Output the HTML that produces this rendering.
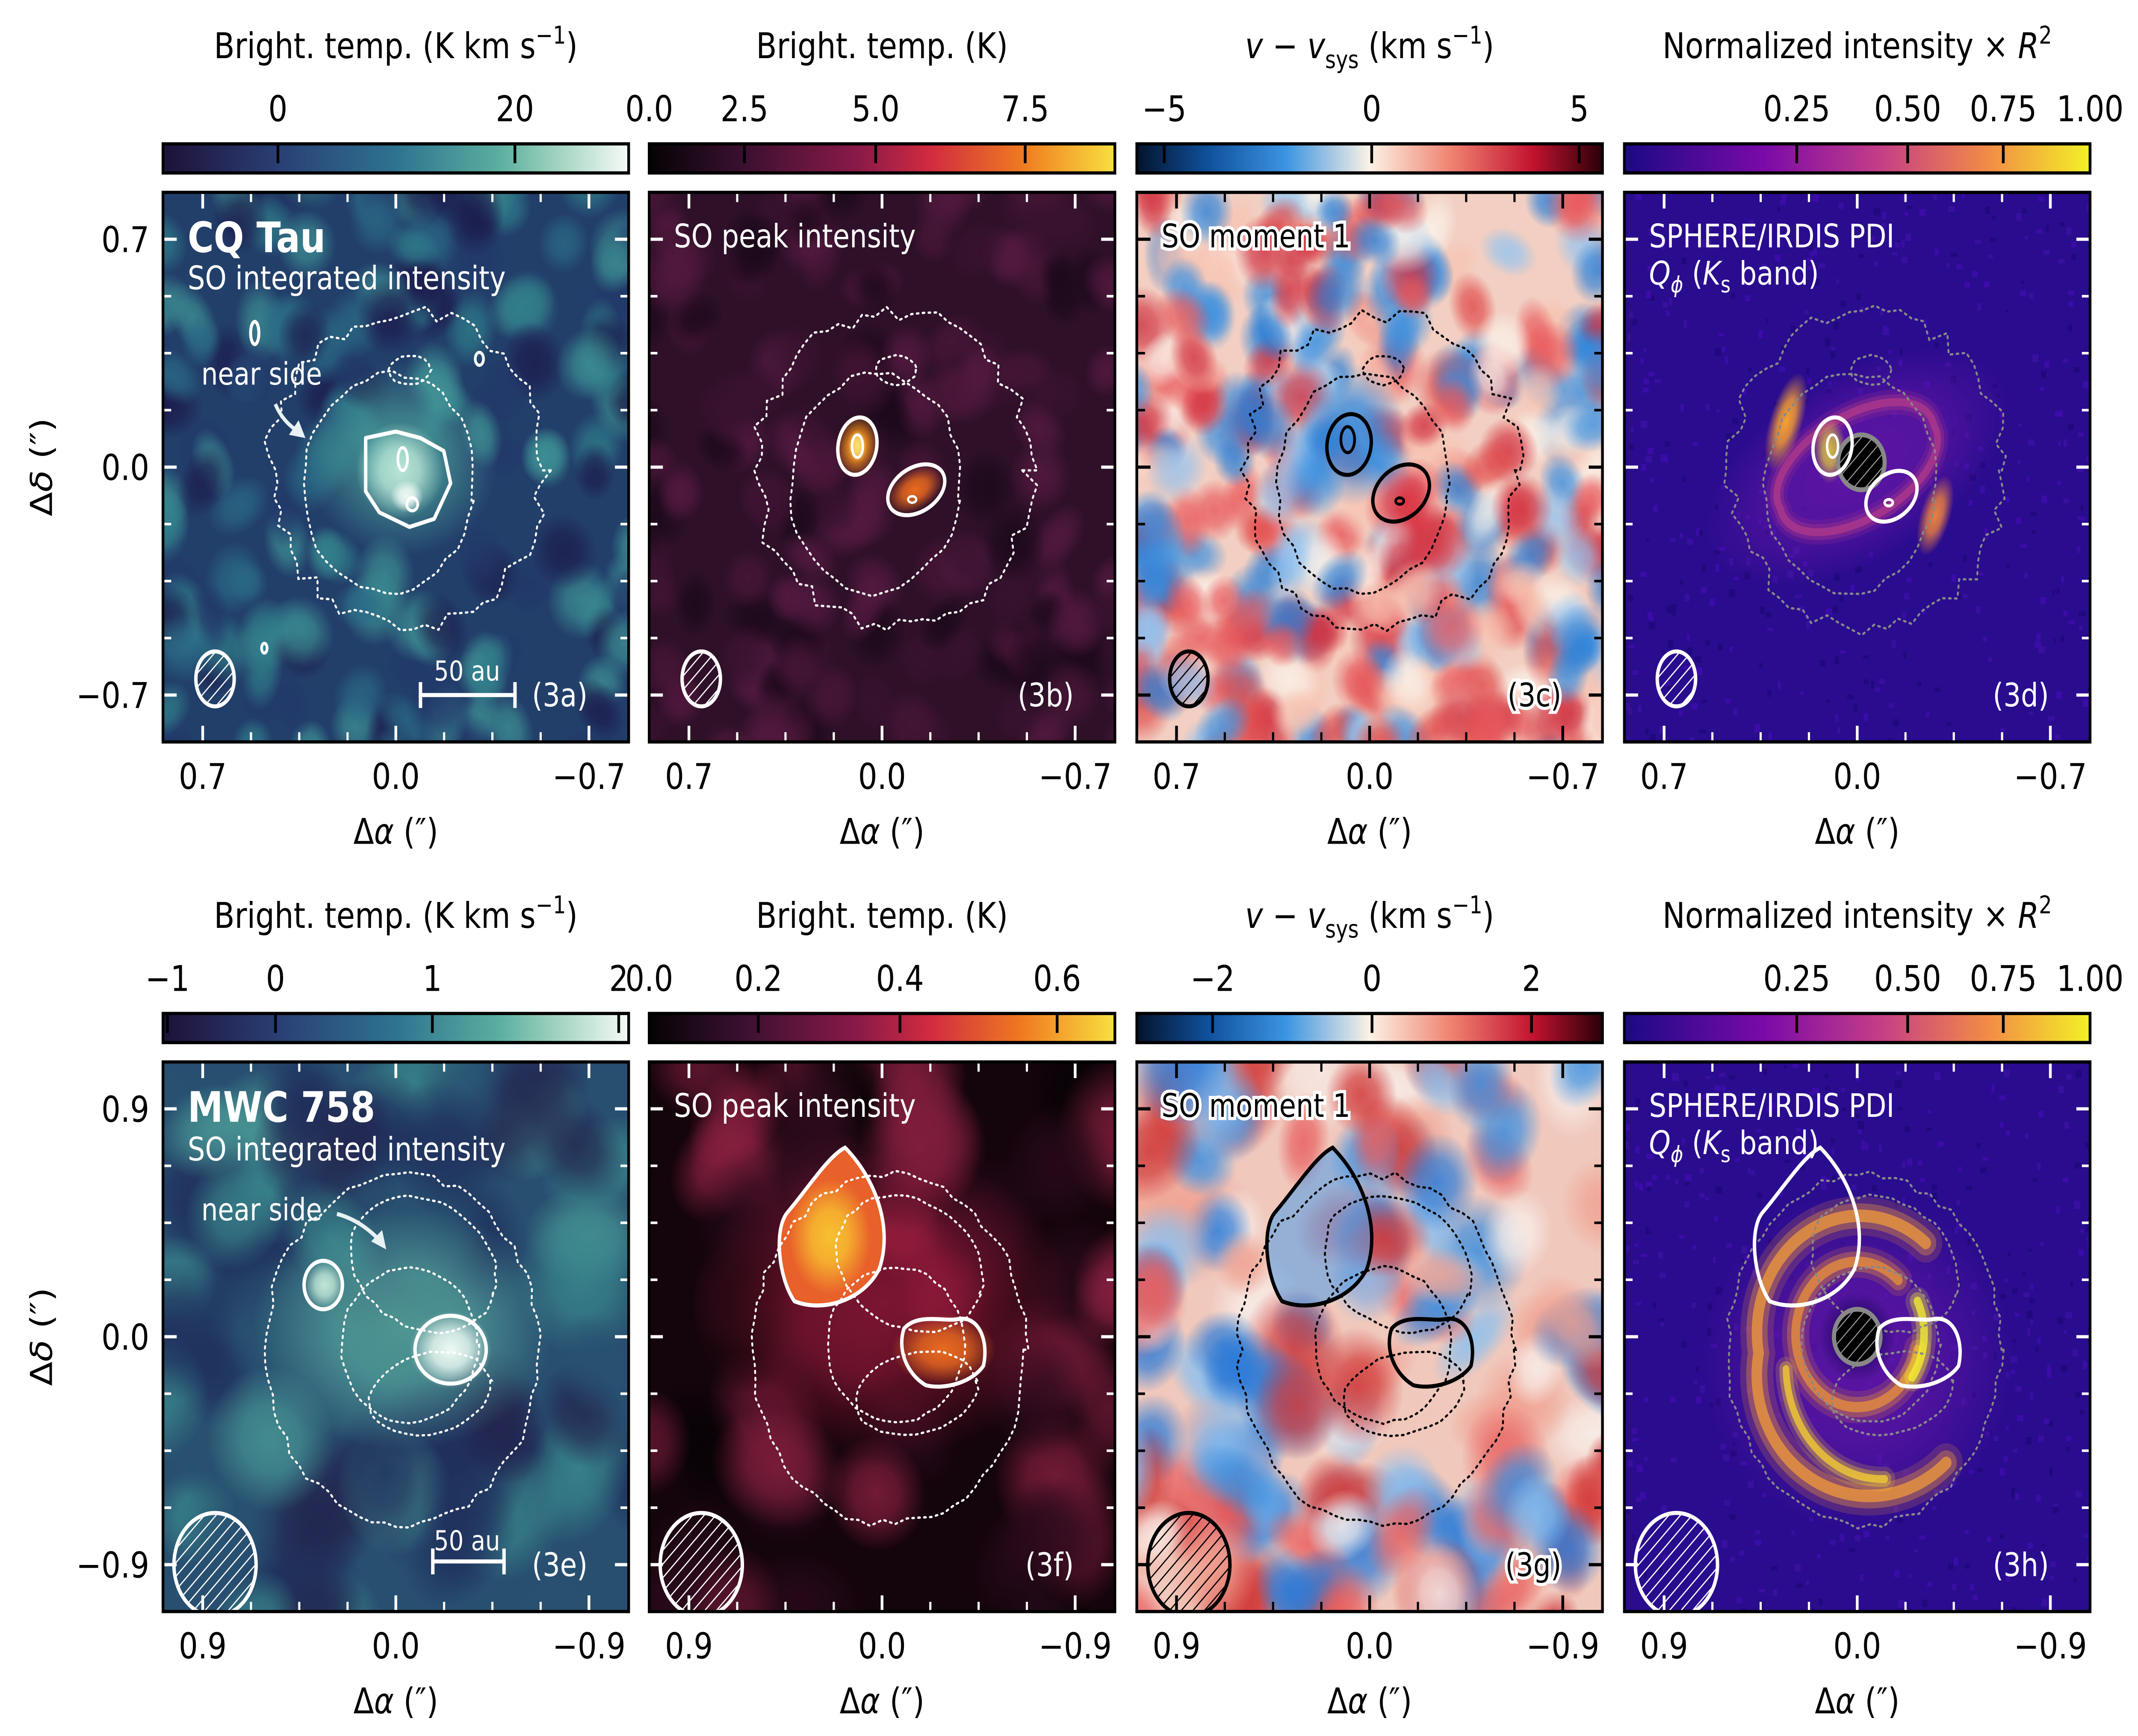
<!DOCTYPE html>
<html><head><meta charset="utf-8"><style>
html,body{margin:0;padding:0;background:#fff;width:100%;height:100%;overflow:hidden;}
svg{display:block;position:fixed;left:0;top:0;width:100vw;height:100vh;font-family:"DejaVu Sans","Liberation Sans",sans-serif;}
</style></head><body>
<svg id="fig" xmlns="http://www.w3.org/2000/svg" width="100%" height="100%" preserveAspectRatio="none" viewBox="0 0 1561 1074">
<defs id="defs">
<linearGradient id="cm0"><stop offset="0" stop-color="#1d1238"/><stop offset="0.25" stop-color="#2a3f75"/><stop offset="0.5" stop-color="#2e7390"/><stop offset="0.72" stop-color="#5aae9f"/><stop offset="0.85" stop-color="#a2d4c0"/><stop offset="1" stop-color="#f6faf7"/></linearGradient>
<linearGradient id="cm1"><stop offset="0" stop-color="#050305"/><stop offset="0.2" stop-color="#3a1030"/><stop offset="0.45" stop-color="#8a1a48"/><stop offset="0.6" stop-color="#d02a40"/><stop offset="0.8" stop-color="#ef7a20"/><stop offset="1" stop-color="#f8e040"/></linearGradient>
<linearGradient id="cm2"><stop offset="0" stop-color="#04142c"/><stop offset="0.15" stop-color="#0f4f9a"/><stop offset="0.32" stop-color="#3b94e2"/><stop offset="0.5" stop-color="#fbf2e4"/><stop offset="0.68" stop-color="#ef7f6e"/><stop offset="0.85" stop-color="#c2132f"/><stop offset="1" stop-color="#2a0008"/></linearGradient>
<linearGradient id="cm3"><stop offset="0" stop-color="#1b0a84"/><stop offset="0.3" stop-color="#7a0aa8"/><stop offset="0.55" stop-color="#c43e86"/><stop offset="0.78" stop-color="#f28b46"/><stop offset="1" stop-color="#f2f226"/></linearGradient>
<pattern id="hatchW" patternUnits="userSpaceOnUse" width="6" height="6" patternTransform="rotate(45)"><line x1="0" y1="0" x2="0" y2="6" stroke="#fff" stroke-width="1.6"/></pattern>
<pattern id="hatchK" patternUnits="userSpaceOnUse" width="6" height="6" patternTransform="rotate(45)"><line x1="0" y1="0" x2="0" y2="6" stroke="#000" stroke-width="1.6"/></pattern>
<pattern id="hatchG" patternUnits="userSpaceOnUse" width="6" height="6" patternTransform="rotate(45)"><rect width="6" height="6" fill="#000"/><line x1="0" y1="0" x2="0" y2="6" stroke="#999" stroke-width="1.4"/></pattern>
</defs>
</svg>
<script>
// ---------- data ----------
const row1TickVals = [[0,20],[0.0,2.5,5.0,7.5],[-5,0,5],[0.25,0.5,0.75,1.0]];
const row1TickLabels = [["0","20"],["0.0","2.5","5.0","7.5"],["\u22125","0","5"],["0.25","0.50","0.75","1.00"]];
const row1Norms = [[-9.7,29.6,1],[0,8.9,1.25],[-5.66,5.56,1],[0,1,0.717]];
const row2TickVals = [[-1,0,1,2],[0.0,0.2,0.4,0.6],[-2,0,2],[0.25,0.5,0.75,1.0]];
const row2TickLabels = [["\u22121","0","1","2"],["0.0","0.2","0.4","0.6"],["\u22122","0","2"],["0.25","0.50","0.75","1.00"]];
const row2Norms = [[-1.1,2.05,1.35],[0,0.67,1.2],[-2.95,2.89,1],[0,1,0.717]];
const row1AxisTicks = [0.7,0.0,-0.7];
const row1AxisLabels = ["0.7","0.0","\u22120.7"];
const row2AxisTicks = [0.9,0.0,-0.9];
const row2AxisLabels = ["0.9","0.0","\u22120.9"];
const panelTags = [["(3a)","(3b)","(3c)","(3d)"],["(3e)","(3f)","(3g)","(3h)"]];

// ---------- layout ----------
const NS="http://www.w3.org/2000/svg";
const svg=document.getElementById('fig');
const defs=document.getElementById('defs');
const PX=[119,474,830,1186], PY=[119,657], S=340, CB=[89,627];
function el(tag,attrs,parent){const e=document.createElementNS(NS,tag);for(const k in attrs)e.setAttribute(k,attrs[k]);(parent||svg).appendChild(e);return e;}
let seed=12345;function rnd(){seed=(seed*1103515245+12345)%2147483648;return seed/2147483648;}
const grads={};
function soft(col){
  const id='rg'+col.replace('#','');
  if(!grads[id]){grads[id]=1;const g=el('radialGradient',{id:id},defs);
    el('stop',{offset:'0','stop-color':col,'stop-opacity':1},g);
    el('stop',{offset:'0.45','stop-color':col,'stop-opacity':0.8},g);
    el('stop',{offset:'1','stop-color':col,'stop-opacity':0},g);}
  return 'url(#'+id+')';
}
function blob(g,cx,cy,rx,ry,col,rot,op){return el('ellipse',{cx:cx,cy:cy,rx:rx,ry:ry,fill:soft(col),transform:`rotate(${rot||0} ${cx} ${cy})`,opacity:op==null?1:op},g);}
function softStroke(g,d,col,w){
  el('path',{d:d,fill:'none',stroke:col,'stroke-width':w*2.2,opacity:0.18,'stroke-linecap':'round'},g);
  el('path',{d:d,fill:'none',stroke:col,'stroke-width':w*1.4,opacity:0.35,'stroke-linecap':'round'},g);
  el('path',{d:d,fill:'none',stroke:col,'stroke-width':w*0.7,opacity:0.75,'stroke-linecap':'round'},g);
}
function cbFrac(v,n){const f=Math.max(0,(v-n[0])/(n[1]-n[0]));return Math.pow(f,n[2]);}

// colorbars
for(let r=0;r<2;r++){
  const vals=r?row2TickVals:row1TickVals, labs=r?row2TickLabels:row1TickLabels, norms=r?row2Norms:row1Norms;
  for(let c=0;c<4;c++){
    const x=PX[c], y=CB[r];
    const bar=el('rect',{x:x,y:y,width:S,height:18,fill:'url(#cm'+c+')',stroke:'#000','stroke-width':2});
    
    
    vals[c].forEach((v,i)=>{
      const tx=x+cbFrac(v,norms[c])*S;
      const t=el('line',{x1:tx,y1:y,x2:tx,y2:y+12,stroke:'#000','stroke-width':2});
      
      
      const lt=el('text',{x:tx,y:y-14,'font-size':22,'text-anchor':'middle',fill:'#000'});
      lt.textContent=labs[c][i];
      
      
    });
    const ty=y-53, cx=x+S/2;
    const tt=el('text',{x:cx,y:ty,'font-size':22,'text-anchor':'middle',fill:'#000'});
    
    
    if(c===0){tt.innerHTML='Bright. temp. (K km s<tspan dy="-9" font-size="15">\u22121</tspan><tspan dy="9">)</tspan>';}
    else if(c===1){tt.textContent='Bright. temp. (K)';}
    else if(c===2){tt.innerHTML='<tspan font-style="italic">v</tspan> \u2212 <tspan font-style="italic">v</tspan><tspan dy="6" font-size="15">sys</tspan><tspan dy="-6"> (km s</tspan><tspan dy="-9" font-size="15">\u22121</tspan><tspan dy="9">)</tspan>';}
    else {tt.innerHTML='Normalized intensity \u00d7 <tspan font-style="italic">R</tspan><tspan dy="-9" font-size="15">2</tspan>';}
  }
}

// panels helpers
let pid=0;
function clipFor(x,y){const id='clip'+(pid++);const cp=el('clipPath',{id:id},defs);el('rect',{x:x,y:y,width:S,height:S},cp);return id;}
function noise(g,x,y,n,cols,rmin,rmax,op){
  for(let i=0;i<n;i++){const rx=rmin+rnd()*(rmax-rmin), ry=rmin+rnd()*(rmax-rmin);
    blob(g,x-10+rnd()*(S+20),y-10+rnd()*(S+20),rx,ry,cols[Math.floor(rnd()*cols.length)],rnd()*180,op);}
}
function speckle(g,x,y,n,cols){for(let i=0;i<n;i++){el('rect',{x:x+rnd()*S,y:y+rnd()*S,width:2+rnd()*3,height:2+rnd()*3,fill:cols[Math.floor(rnd()*cols.length)]},g);}}
function wobbleEllipse(cx,cy,rx,ry,rot,amp,nn){
  let d='';const a=rot*Math.PI/180;
  for(let i=0;i<=nn;i++){const t=i/nn*2*Math.PI;const w=1+amp*(rnd()-0.5);
    const ex=rx*w*Math.cos(t), ey=ry*w*Math.sin(t);
    const px=cx+ex*Math.cos(a)-ey*Math.sin(a), py=cy+ex*Math.sin(a)+ey*Math.cos(a);
    d+=(i?'L':'M')+px.toFixed(1)+','+py.toFixed(1);}
  return d+'Z';
}
function dotted(g,d,col,w){return el('path',{d:d,fill:'none',stroke:col,'stroke-width':w||1.4,'stroke-dasharray':'1.3,3','stroke-linecap':'round'},g);}
function contourRow1(g,x,y,col){
  const cx=x+S/2, cy=y+S/2;
  dotted(g,wobbleEllipse(cx+8,cy+2,100,97,0,0.12,70),col);
  dotted(g,wobbleEllipse(cx-5,cy+10,62,68,10,0.06,40),col);
  dotted(g,wobbleEllipse(cx+10,cy-60,15,9,0,0.1,16),col);
}
function contourRow2(g,x,y,col){
  const cx=x+S/2, cy=y+S/2;
  dotted(g,wobbleEllipse(cx+5,cy+8,100,108,0,0.05,70),col);
  dotted(g,wobbleEllipse(cx+10,cy+5,50,48,0,0.04,40),col);
  dotted(g,wobbleEllipse(cx+20,cy-45,55,40,20,0.05,40),col);
  dotted(g,wobbleEllipse(cx+25,cy+35,45,25,-10,0.05,30),col);
}
function teardrop(ox,oy){return `M${ox+617},${oy+710} C${ox+640},${oy+730} ${ox+652},${oy+760} ${ox+642},${oy+785} C${ox+630},${oy+805} ${ox+600},${oy+812} ${ox+580},${oy+805} C${ox+568},${oy+790} ${ox+565},${oy+760} ${ox+575},${oy+750} C${ox+590},${oy+735} ${ox+605},${oy+715} ${ox+617},${oy+710}Z`;}
function bean(ox,oy){return `M${ox+660},${oy+822} C${ox+670},${oy+812} ${ox+690},${oy+818} ${ox+700},${oy+816} C${ox+715},${oy+814} ${ox+722},${oy+830} ${ox+718},${oy+845} C${ox+710},${oy+855} ${ox+690},${oy+860} ${ox+676},${oy+857} C${ox+662},${oy+850} ${ox+655},${oy+835} ${ox+660},${oy+822}Z`;}
function txt(g,x,y,s,size,col,anchor,extra){const t=el('text',Object.assign({x:x,y:y,'font-size':size,fill:col,'text-anchor':anchor||'start'},extra||{}),g);t.innerHTML=s;return t;}
const QPHI='<tspan font-style="italic">Q</tspan><tspan dy="5" font-size="14" font-style="italic">\u03d5</tspan><tspan dy="-5"> (</tspan><tspan font-style="italic">K</tspan><tspan dy="5" font-size="14">s</tspan><tspan dy="-5"> band)</tspan>';

for(let r=0;r<2;r++)for(let c=0;c<4;c++){
  const x=PX[c], y=PY[r], cx=x+S/2, cy=y+S/2;
  const g=el('g',{'clip-path':'url(#'+clipFor(x,y)+')'});
  
  
  if(r===0){
    if(c===0){
      el('rect',{x:x,y:y,width:S,height:S,fill:'#223f6a'},g);
      noise(g,x,y,170,['#2f7d8a','#1c1c4c','#3d9094','#22386a','#2a6a86'],14,26,0.8);
      blob(g,cx+5,cy-5,70,60,'#4aa09a',0,0.8);
      blob(g,cx+3,cy+2,32,30,'#b8e4d6',0,1);
      blob(g,cx+8,cy+18,12,10,'#eef8f4',0,1);
      contourRow1(g,x,y,'#fff');
      el('path',{d:`M${x+148},${y+152} L${x+170},${y+148} L${x+188},${y+152} L${x+205},${y+160} L${x+210},${y+180} L${x+198},${y+202} L${x+180},${y+207} L${x+158},${y+198} L${x+148},${y+185} Z`,fill:'none',stroke:'#fff','stroke-width':2.5,'stroke-linejoin':'round'},g);
      el('ellipse',{cx:x+175,cy:y+165,rx:3.5,ry:7,fill:'none',stroke:'#fff','stroke-width':2},g);
      el('ellipse',{cx:x+182,cy:y+193,rx:4,ry:4,fill:'none',stroke:'#fff','stroke-width':2},g);
      el('ellipse',{cx:x+67,cy:y+87,rx:3,ry:7,fill:'none',stroke:'#fff','stroke-width':2.2},g);
      el('ellipse',{cx:x+231,cy:y+103,rx:3,ry:4,fill:'none',stroke:'#fff','stroke-width':2},g);
      el('ellipse',{cx:x+74,cy:y+282,rx:2,ry:3,fill:'none',stroke:'#fff','stroke-width':2},g);
      txt(g,x+18,y+37,'CQ Tau',26,'#fff','start',{'font-weight':'bold'});
      txt(g,x+18,y+60,'SO integrated intensity',20,'#fff');
      txt(g,x+28,y+119,'near side',19,'#fff');
      el('path',{d:`M${x+82},${y+131} Q${x+88},${y+143} ${x+101},${y+149}`,fill:'none',stroke:'#e8f2f4','stroke-width':2.5},g);
      el('path',{d:`M${x+104},${y+152} L${x+92},${y+150} L${x+99},${y+141} Z`,fill:'#e8f2f4'},g);
      el('line',{x1:x+188,y1:y+311,x2:x+257,y2:y+311,stroke:'#fff','stroke-width':2.5},g);
      el('line',{x1:x+188,y1:y+303,x2:x+188,y2:y+319,stroke:'#fff','stroke-width':2.5},g);
      el('line',{x1:x+257,y1:y+303,x2:x+257,y2:y+319,stroke:'#fff','stroke-width':2.5},g);
      txt(g,x+222,y+302,'50 au',17,'#fff','middle');
    } else if(c===1){
      el('rect',{x:x,y:y,width:S,height:S,fill:'#2e1028'},g);
      noise(g,x,y,150,['#561a42','#1a0818','#4a1638','#3a1230'],14,26,0.8);
      blob(g,x+152,y+157,16,20,'#f5901c',15,1);
      blob(g,x+152,y+157,7,10,'#fbe070',0,1);
      blob(g,x+194,y+184,22,13,'#ea6a1e',-25,1);
      contourRow1(g,x,y,'#fff');
      el('ellipse',{cx:x+152,cy:y+157,rx:14,ry:18,fill:'none',stroke:'#fff','stroke-width':2.5,transform:`rotate(15 ${x+152} ${y+157})`},g);
      el('ellipse',{cx:x+152,cy:y+157,rx:4,ry:7,fill:'none',stroke:'#fff','stroke-width':1.8},g);
      el('ellipse',{cx:x+195,cy:y+184,rx:22,ry:14,fill:'none',stroke:'#fff','stroke-width':2.5,transform:`rotate(-25 ${x+195} ${y+184})`},g);
      el('ellipse',{cx:x+192,cy:y+190,rx:3,ry:2,fill:'none',stroke:'#fff','stroke-width':1.5},g);
      txt(g,x+18,y+34,'SO peak intensity',20,'#fff');
    } else if(c===2){
      el('rect',{x:x,y:y,width:S,height:S,fill:'#f2cfc2'},g);
      noise(g,x,y,300,['#e8575a','#3a8fe0','#f7c3b2','#94c4f0','#d03040','#fbf3ea','#e04848','#2a80d8'],14,26,0.8);
      blob(g,x+157,y+150,40,44,'#2a86de',0,0.9);
      blob(g,x+196,y+190,32,24,'#e03540',-30,0.9);
      contourRow1(g,x,y,'#000');
      el('ellipse',{cx:x+155,cy:y+156,rx:16,ry:19,fill:'none',stroke:'#000','stroke-width':2.5,transform:`rotate(15 ${x+155} ${y+156})`},g);
      el('ellipse',{cx:x+154,cy:y+153,rx:5,ry:8,fill:'none',stroke:'#000','stroke-width':2},g);
      el('ellipse',{cx:x+193,cy:y+186,rx:22,ry:16,fill:'none',stroke:'#000','stroke-width':2.5,transform:`rotate(-30 ${x+193} ${y+186})`},g);
      el('ellipse',{cx:x+192,cy:y+191,rx:3,ry:2,fill:'none',stroke:'#000','stroke-width':1.8},g);
      txt(g,x+18,y+34,'SO moment 1',20,'#000','start',{stroke:'#fff','stroke-width':4,'paint-order':'stroke'});
    } else {
      el('rect',{x:x,y:y,width:S,height:S,fill:'#2a0c8e'},g);
      speckle(g,x,y,400,['#3810a0','#22087e','#3a0ca8']);
      blob(g,cx,cy,120,60,'#6a18a8',-25,0.8);
      softStroke(g,`M${cx-62},${cy} A62,30 0 1 0 ${cx+62},${cy}`.replace(/.*/,`M${cx-56},${cy+26} A62,30 -25 1 1 ${cx+56},${cy-26} A62,30 -25 1 1 ${cx-56},${cy+26}`),'#b03a8a',7);
      blob(g,x+118,y+142,12,32,'#f6a030',20,1);
      blob(g,x+227,y+200,11,26,'#e88040',20,1);
      blob(g,x+150,y+160,12,20,'#f0e030',0,0.8);
      contourRow1(g,x,y,'#888');
      el('circle',{cx:cx+3,cy:cy-3,r:17,fill:'url(#hatchG)',stroke:'#888','stroke-width':3},g);
      el('ellipse',{cx:x+152,cy:y+157,rx:14,ry:18,fill:'none',stroke:'#fff','stroke-width':2.5,transform:`rotate(15 ${x+152} ${y+157})`},g);
      el('ellipse',{cx:x+152,cy:y+157,rx:4,ry:7,fill:'none',stroke:'#fff','stroke-width':1.8},g);
      el('ellipse',{cx:x+195,cy:y+188,rx:20,ry:14,fill:'none',stroke:'#fff','stroke-width':2.5,transform:`rotate(-30 ${x+195} ${y+188})`},g);
      el('ellipse',{cx:x+193,cy:y+192,rx:3,ry:2,fill:'none',stroke:'#fff','stroke-width':1.8},g);
      txt(g,x+18,y+34,'SPHERE/IRDIS PDI',20,'#fff');
      txt(g,x+18,y+57,QPHI,20,'#fff');
    }
    const bc=c===2?'#000':'#fff';
    el('ellipse',{cx:x+38,cy:y+301,rx:14,ry:17,fill:'url(#'+(c===2?'hatchK':'hatchW')+')',stroke:bc,'stroke-width':2.5},g);
  } else {
    if(c===0){
      el('rect',{x:x,y:y,width:S,height:S,fill:'#284f70'},g);
      noise(g,x,y,70,['#3a8a8e','#1e2c5a','#4a9a96','#285070','#22244e'],28,50,0.8);
      blob(g,cx+5,cy-5,110,75,'#5aaea0',0,0.8);
      blob(g,x+210,y+178,30,24,'#eefaf4',0,1);
      blob(g,x+118,y+138,15,15,'#bfe6d6',0,1);
      contourRow2(g,x,y,'#fff');
      el('ellipse',{cx:x+210,cy:y+178,rx:26,ry:21,fill:'none',stroke:'#fff','stroke-width':2.5},g);
      el('ellipse',{cx:x+117,cy:y+138,rx:14,ry:15,fill:'none',stroke:'#fff','stroke-width':2.5},g);
      txt(g,x+18,y+37,'MWC 758',26,'#fff','start',{'font-weight':'bold'});
      txt(g,x+18,y+61,'SO integrated intensity',20,'#fff');
      txt(g,x+28,y+98,'near side',19,'#fff');
      el('path',{d:`M${x+127},${y+94} Q${x+145},${y+98} ${x+160},${y+112}`,fill:'none',stroke:'#e8f2f4','stroke-width':2.5},g);
      el('path',{d:`M${x+163},${y+116} L${x+152},${y+111} L${x+160},${y+104} Z`,fill:'#e8f2f4'},g);
      el('line',{x1:x+197,y1:y+309,x2:x+249,y2:y+309,stroke:'#fff','stroke-width':2.5},g);
      el('line',{x1:x+197,y1:y+301,x2:x+197,y2:y+317,stroke:'#fff','stroke-width':2.5},g);
      el('line',{x1:x+249,y1:y+301,x2:x+249,y2:y+317,stroke:'#fff','stroke-width':2.5},g);
      txt(g,x+222,y+302,'50 au',17,'#fff','middle');
    } else if(c===1){
      el('rect',{x:x,y:y,width:S,height:S,fill:'#14040c'},g);
      noise(g,x,y,60,['#6a1834','#050204','#8a2040','#2a0a1c'],28,50,0.8);
      blob(g,x+170,y+150,140,95,'#a01a3a',0,0.7);
      el('path',{d:teardrop(0,0),fill:'#e8602a'},g);
      blob(g,x+132,y+108,30,36,'#f8c030',0,1);
      blob(g,x+215,y+178,38,22,'#e86a20',0,1);
      contourRow2(g,x,y,'#fff');
      el('path',{d:teardrop(0,0),fill:'none',stroke:'#fff','stroke-width':2.5},g);
      el('path',{d:bean(0,0),fill:'none',stroke:'#fff','stroke-width':2.5},g);
      txt(g,x+18,y+34,'SO peak intensity',20,'#fff');
    } else if(c===2){
      el('rect',{x:x,y:y,width:S,height:S,fill:'#f0c8bc'},g);
      noise(g,x,y,140,['#3a8ee0','#e86060','#f8f0ec','#8ac0f0','#d03838','#f0a090','#2a7ad8'],18,40,0.85);
      el('path',{d:teardrop(356,0),fill:'#5aa0e6',opacity:0.6},g);
      el('path',{d:teardrop(356,0),fill:'none',stroke:'#000','stroke-width':2.5},g);
      el('path',{d:bean(356,0),fill:'none',stroke:'#000','stroke-width':2.5},g);
      contourRow2(g,x,y,'#000');
      txt(g,x+18,y+34,'SO moment 1',20,'#000','start',{stroke:'#fff','stroke-width':4,'paint-order':'stroke'});
    } else {
      el('rect',{x:x,y:y,width:S,height:S,fill:'#2a0c8e'},g);
      speckle(g,x,y,400,['#3810a0','#22087e','#3a0ca8']);
      blob(g,cx,cy+15,115,105,'#6a18a8',0,0.75);
      softStroke(g,`M${cx+50},${cy-58} A75,72 0 0 0 ${cx-72},${cy+10} A82,75 0 0 0 ${cx+65},${cy+78}`,'#f09a3a',11);
      softStroke(g,`M${cx-52},${cy+20} A70,70 0 0 0 ${cx+20},${cy+88}`,'#f8d030',7);
      softStroke(g,`M${cx+30},${cy-35} A45,45 0 1 0 ${cx+44},${cy+8}`,'#e8903a',9);
      softStroke(g,`M${cx+44},${cy-22} A45,45 0 0 1 ${cx+40},${cy+25}`,'#f4f030',8);
      blob(g,cx,cy,28,28,'#1e0660',0,1);
      contourRow2(g,x,y,'#888');
      el('circle',{cx:cx,cy:cy,r:17,fill:'url(#hatchG)',stroke:'#888','stroke-width':3},g);
      el('path',{d:teardrop(712,0),fill:'none',stroke:'#fff','stroke-width':2.5},g);
      el('path',{d:bean(712,0),fill:'none',stroke:'#fff','stroke-width':2.5},g);
      txt(g,x+18,y+34,'SPHERE/IRDIS PDI',20,'#fff');
      txt(g,x+18,y+57,QPHI,20,'#fff');
    }
    const bc=c===2?'#000':'#fff';
    el('ellipse',{cx:x+38,cy:y+311,rx:30,ry:32,fill:'url(#'+(c===2?'hatchK':'hatchW')+')',stroke:bc,'stroke-width':2.5},g);
  }
  const tg=txt(svg,x+310,y+318,panelTags[r][c],20,c===2?'#000':'#fff','end',c===2?{stroke:'#fff','stroke-width':4,'paint-order':'stroke'}:{});
  
  
  const tc=c===2?'#000':'#fff';
  for(let k=-4;k<=4;k++){
    const p=k*35.25, major=(k%4===0), L=major?10:6, w=major?2:1.6;
    el('line',{x1:cx+p,y1:y,x2:cx+p,y2:y+L,stroke:tc,'stroke-width':w});
    el('line',{x1:cx+p,y1:y+S,x2:cx+p,y2:y+S-L,stroke:tc,'stroke-width':w});
    el('line',{x1:x,y1:cy+p,x2:x+L,y2:cy+p,stroke:tc,'stroke-width':w});
    el('line',{x1:x+S,y1:cy+p,x2:x+S-L,y2:cy+p,stroke:tc,'stroke-width':w});
  }
  const fr=el('rect',{x:x,y:y,width:S,height:S,fill:'none',stroke:'#000','stroke-width':2});
  
  
  const av=r?row2AxisTicks:row1AxisTicks, al=r?row2AxisLabels:row1AxisLabels, lim=r?1.085:0.844;
  av.forEach((v,i)=>{
    const px=cx - v/lim*S/2;
    const t=txt(svg,px,y+S+29,al[i],22,'#000','middle');
    
    
    if(c===0){
      const t2=txt(svg,x-10,cy - v/lim*S/2+8,al[i],22,'#000','end');
      
      
    }
  });
  const xt=txt(svg,cx,y+S+63,'\u0394<tspan font-style="italic">\u03b1</tspan> (\u2033)',22,'#000','middle');
  
  
  if(c===0){
    const yt=txt(svg,0,0,'\u0394<tspan font-style="italic">\u03b4</tspan> (\u2033)',22,'#000','middle',{transform:`translate(38 ${cy}) rotate(-90)`});
    
    
  }
}
</script>
</body></html>
